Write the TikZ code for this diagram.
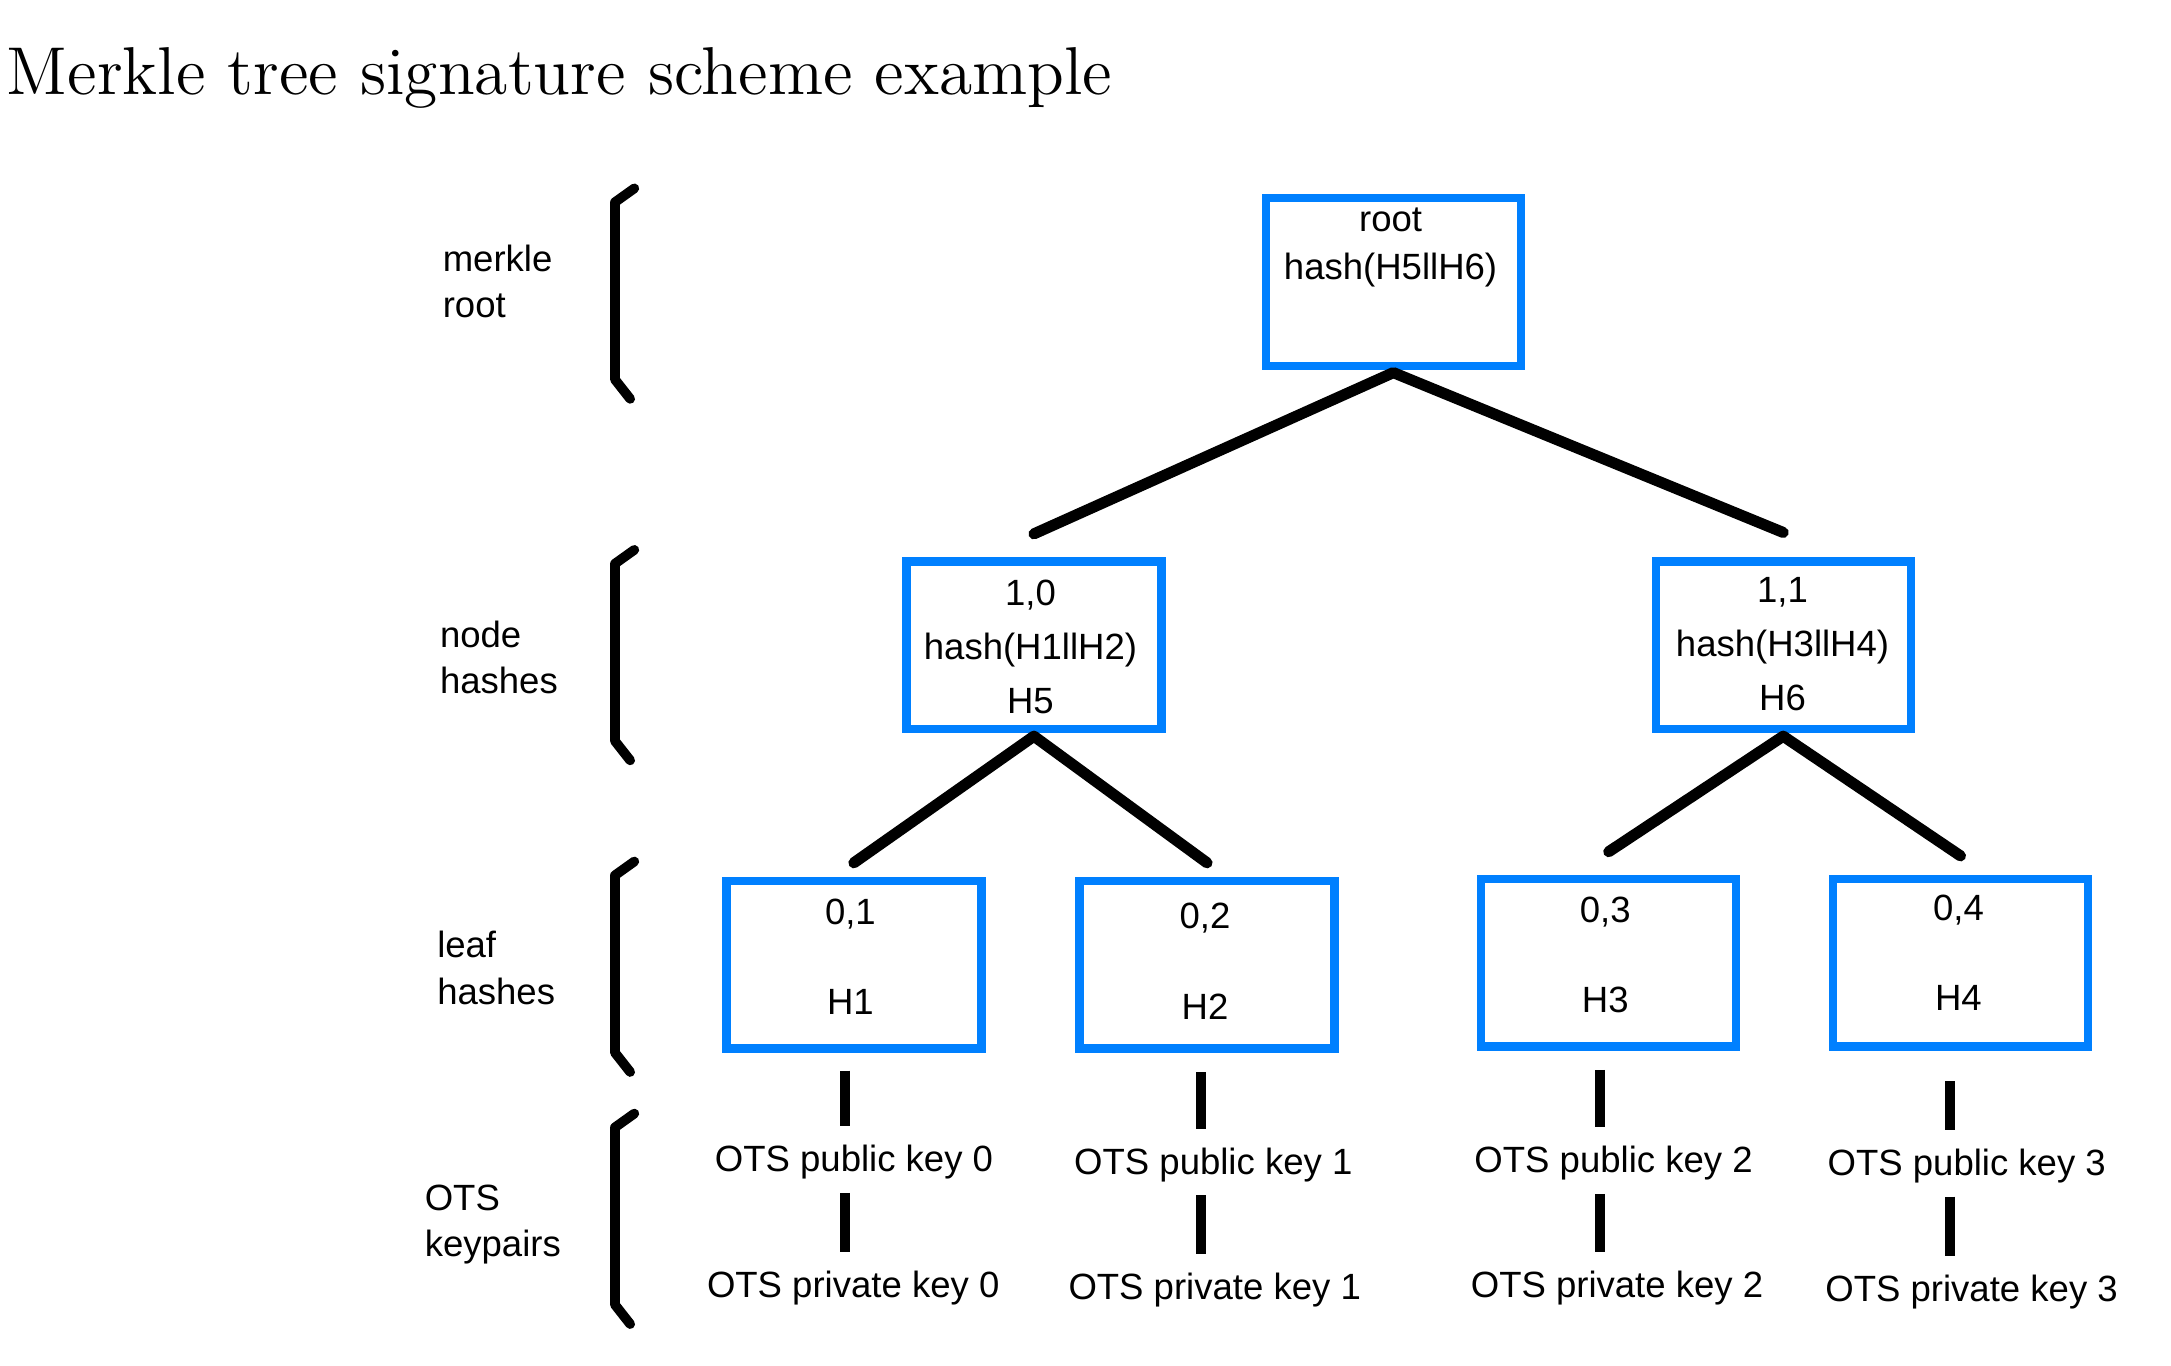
\documentclass[tikz,border=0pt]{standalone}
\usepackage{fontspec}
\setsansfont{Liberation Sans}
\usepackage{tikz}
\usepackage{xcolor}
\definecolor{boxblue}{RGB}{0,128,255}

\begin{document}
\begin{tikzpicture}[x=0.01cm, y=-0.01cm,
  hashbox/.style={draw=boxblue, line width=0.06cm, minimum width=1.84cm, minimum height=1.21cm, inner sep=0pt},
  boxtext/.style={font=\sffamily\fontsize{7.5}{11.1}\selectfont, align=center, inner sep=0pt},
  sidelabel/.style={font=\sffamily\fontsize{7.5}{9.53}\selectfont, align=left, anchor=west, inner sep=0pt},
  keytext/.style={font=\sffamily\fontsize{7.5}{9}\selectfont, inner sep=0pt},
  treeline/.style={line width=0.08cm, line join=round, line cap=round},
  keyline/.style={line width=0.07cm},
  bracket/.style={line width=0.07cm, line join=round, line cap=round}]
\useasboundingbox (0,0) rectangle (1567.5,985.6);
\node[anchor=base west, inner sep=0pt, font=\fontsize{13.9}{16}\selectfont] (title) at (4.3,67.9) {Merkle tree signature scheme example};
% levels on the left
\foreach \txt/\xx/\yy [count=\i] in {merkle\\root/319/203, node\\hashes/317/474.8, leaf\\hashes/315/699, OTS\\keypairs/306/884.3}
  \node[sidelabel] (side\i) at (\xx,\yy) {\txt};
\foreach \t in {136,397,622,804}
  \draw[bracket] (458,\t) -- (444,\t+10) -- (444,\t+138) -- (455,\t+152);
% root and node hashes
\node[hashbox] (root) at (1006,203.5) {};
\node[boxtext, font=\sffamily\fontsize{7.5}{9.96}\selectfont] (root-txt) at (1004,178.6) {root\\hash(H5llH6)};
\node[hashbox] (n10) at (746.5,466) {};
\node[boxtext] (n10-txt) at (744,467) {1,0\\hash(H1llH2)\\H5};
\node[hashbox] (n11) at (1287.5,466) {};
\node[boxtext] (n11-txt) at (1287,465) {1,1\\hash(H3llH4)\\H6};
% leaves and keypairs
\foreach \i/\xx/\yy/\tx/\ty/\lx/\px/\py/\qx/\qy/\sa [evaluate=\i as \k using int(\i-1)] in
  {1/616.5/696.5/614/690.5/610/616.6/839.2/616/929.7/0.13,
   2/871.5/696.5/870/694/867/876/841/877/931.7/0.14,
   3/1161.5/695/1159/689.5/1155/1165/840/1167.5/929.7/0.14,
   4/1415.5/695/1414/688/1408/1420/842/1423.5/932.7/0.22}
{
  \node[hashbox] (l\i) at (\xx,\yy) {};
  \node[boxtext] (l\i-txt) at (\tx,\ty) {0,\i\\[7.4pt]H\i};
  \node[keytext] (pub\i) at (\px,\py) {OTS public key \k};
  \node[keytext] (priv\i) at (\qx,\qy) {OTS private key \k};
  \coordinate (c\i) at (\lx,0);
  \draw[keyline, shorten <=\sa cm, shorten >=0.13cm] (c\i |- l\i.south) -- (c\i |- pub\i.north);
  \draw[keyline, shorten <=0.09cm, shorten >=0.13cm] (c\i |- pub\i.south) -- (c\i |- priv\i.north);
}
% tree connectors
\draw[treeline] ([yshift=0.17cm]n10.north) -- ([yshift=-0.02cm]root.south) -- ([yshift=0.18cm]n11.north);
\draw[treeline] ([yshift=0.10cm]l1.north) -- ([yshift=-0.02cm]n10.south) -- ([yshift=0.10cm]l2.north);
\draw[treeline] ([yshift=0.165cm]l3.north) -- ([yshift=-0.02cm]n11.south) -- ([yshift=0.135cm]l4.north);
\end{tikzpicture}
\end{document}
